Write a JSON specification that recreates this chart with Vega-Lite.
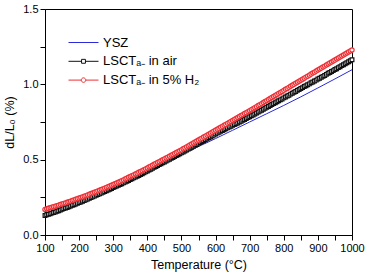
{
  "$schema": "https://vega.github.io/schema/vega-lite/v6.json",
  "width": 307,
  "height": 226,
  "autosize": "none",
  "padding": {"left": 45, "top": 9, "right": 14, "bottom": 41},
  "background": "white",
  "config": {
    "font": "Liberation Sans",
    "view": {"stroke": "#000000", "strokeWidth": 1},
    "axis": {
      "grid": false,
      "domainColor": "#000000",
      "tickColor": "#000000",
      "tickSize": 5,
      "labelColor": "#000000",
      "labelFont": "Liberation Sans",
      "labelFontSize": 11,
      "labelPadding": 2,
      "labelOverlap": false,
      "labelFlush": false,
      "titleColor": "#000000",
      "titleFont": "Liberation Sans",
      "titleFontSize": 12.5,
      "titleFontWeight": "normal"
    }
  },
  "data": {
    "values": [
      {"T": 100, "v": 0.135, "s": "YSZ"}, {"T": 150, "v": 0.180, "s": "YSZ"}, {"T": 200, "v": 0.228, "s": "YSZ"}, {"T": 250, "v": 0.277, "s": "YSZ"},
      {"T": 300, "v": 0.327, "s": "YSZ"}, {"T": 350, "v": 0.378, "s": "YSZ"}, {"T": 400, "v": 0.430, "s": "YSZ"}, {"T": 450, "v": 0.482, "s": "YSZ"},
      {"T": 500, "v": 0.535, "s": "YSZ"}, {"T": 550, "v": 0.587, "s": "YSZ"}, {"T": 600, "v": 0.640, "s": "YSZ"}, {"T": 650, "v": 0.695, "s": "YSZ"},
      {"T": 700, "v": 0.750, "s": "YSZ"}, {"T": 750, "v": 0.805, "s": "YSZ"}, {"T": 800, "v": 0.860, "s": "YSZ"}, {"T": 850, "v": 0.917, "s": "YSZ"},
      {"T": 900, "v": 0.976, "s": "YSZ"}, {"T": 950, "v": 1.036, "s": "YSZ"}, {"T": 1000, "v": 1.097, "s": "YSZ"},

      {"T": 100, "v": 0.130, "s": "air"}, {"T": 105, "v": 0.134, "s": "air"}, {"T": 110, "v": 0.138, "s": "air"}, {"T": 115, "v": 0.141, "s": "air"},
      {"T": 120, "v": 0.145, "s": "air"}, {"T": 125, "v": 0.149, "s": "air"}, {"T": 130, "v": 0.153, "s": "air"}, {"T": 135, "v": 0.157, "s": "air"},
      {"T": 140, "v": 0.161, "s": "air"}, {"T": 145, "v": 0.166, "s": "air"}, {"T": 150, "v": 0.171, "s": "air"}, {"T": 155, "v": 0.175, "s": "air"},
      {"T": 160, "v": 0.179, "s": "air"}, {"T": 165, "v": 0.183, "s": "air"}, {"T": 170, "v": 0.188, "s": "air"}, {"T": 175, "v": 0.192, "s": "air"},
      {"T": 180, "v": 0.197, "s": "air"}, {"T": 185, "v": 0.201, "s": "air"}, {"T": 190, "v": 0.206, "s": "air"}, {"T": 195, "v": 0.210, "s": "air"},
      {"T": 200, "v": 0.215, "s": "air"}, {"T": 205, "v": 0.219, "s": "air"}, {"T": 210, "v": 0.224, "s": "air"}, {"T": 215, "v": 0.228, "s": "air"},
      {"T": 220, "v": 0.233, "s": "air"}, {"T": 225, "v": 0.238, "s": "air"}, {"T": 230, "v": 0.243, "s": "air"}, {"T": 235, "v": 0.248, "s": "air"},
      {"T": 240, "v": 0.253, "s": "air"}, {"T": 245, "v": 0.258, "s": "air"}, {"T": 250, "v": 0.263, "s": "air"}, {"T": 255, "v": 0.268, "s": "air"},
      {"T": 260, "v": 0.273, "s": "air"}, {"T": 265, "v": 0.278, "s": "air"}, {"T": 270, "v": 0.283, "s": "air"}, {"T": 275, "v": 0.288, "s": "air"},
      {"T": 280, "v": 0.294, "s": "air"}, {"T": 285, "v": 0.299, "s": "air"}, {"T": 290, "v": 0.304, "s": "air"}, {"T": 295, "v": 0.309, "s": "air"},
      {"T": 300, "v": 0.315, "s": "air"}, {"T": 305, "v": 0.320, "s": "air"}, {"T": 310, "v": 0.325, "s": "air"}, {"T": 315, "v": 0.330, "s": "air"},
      {"T": 320, "v": 0.335, "s": "air"}, {"T": 325, "v": 0.340, "s": "air"}, {"T": 330, "v": 0.346, "s": "air"}, {"T": 335, "v": 0.351, "s": "air"},
      {"T": 340, "v": 0.357, "s": "air"}, {"T": 345, "v": 0.362, "s": "air"}, {"T": 350, "v": 0.368, "s": "air"}, {"T": 355, "v": 0.373, "s": "air"},
      {"T": 360, "v": 0.379, "s": "air"}, {"T": 365, "v": 0.384, "s": "air"}, {"T": 370, "v": 0.390, "s": "air"}, {"T": 375, "v": 0.395, "s": "air"},
      {"T": 380, "v": 0.401, "s": "air"}, {"T": 385, "v": 0.407, "s": "air"}, {"T": 390, "v": 0.413, "s": "air"}, {"T": 395, "v": 0.419, "s": "air"},
      {"T": 400, "v": 0.425, "s": "air"}, {"T": 405, "v": 0.431, "s": "air"}, {"T": 410, "v": 0.437, "s": "air"}, {"T": 415, "v": 0.443, "s": "air"},
      {"T": 420, "v": 0.449, "s": "air"}, {"T": 425, "v": 0.455, "s": "air"}, {"T": 430, "v": 0.461, "s": "air"}, {"T": 435, "v": 0.467, "s": "air"},
      {"T": 440, "v": 0.473, "s": "air"}, {"T": 445, "v": 0.479, "s": "air"}, {"T": 450, "v": 0.485, "s": "air"}, {"T": 455, "v": 0.491, "s": "air"},
      {"T": 460, "v": 0.497, "s": "air"}, {"T": 465, "v": 0.503, "s": "air"}, {"T": 470, "v": 0.509, "s": "air"}, {"T": 475, "v": 0.515, "s": "air"},
      {"T": 480, "v": 0.521, "s": "air"}, {"T": 485, "v": 0.527, "s": "air"}, {"T": 490, "v": 0.533, "s": "air"}, {"T": 495, "v": 0.539, "s": "air"},
      {"T": 500, "v": 0.545, "s": "air"}, {"T": 505, "v": 0.551, "s": "air"}, {"T": 510, "v": 0.558, "s": "air"}, {"T": 515, "v": 0.564, "s": "air"},
      {"T": 520, "v": 0.570, "s": "air"}, {"T": 525, "v": 0.576, "s": "air"}, {"T": 530, "v": 0.583, "s": "air"}, {"T": 535, "v": 0.589, "s": "air"},
      {"T": 540, "v": 0.595, "s": "air"}, {"T": 545, "v": 0.601, "s": "air"}, {"T": 550, "v": 0.608, "s": "air"}, {"T": 555, "v": 0.614, "s": "air"},
      {"T": 560, "v": 0.620, "s": "air"}, {"T": 565, "v": 0.626, "s": "air"}, {"T": 570, "v": 0.632, "s": "air"}, {"T": 575, "v": 0.638, "s": "air"},
      {"T": 580, "v": 0.645, "s": "air"}, {"T": 585, "v": 0.651, "s": "air"}, {"T": 590, "v": 0.657, "s": "air"}, {"T": 595, "v": 0.663, "s": "air"},
      {"T": 600, "v": 0.670, "s": "air"}, {"T": 605, "v": 0.676, "s": "air"}, {"T": 610, "v": 0.682, "s": "air"}, {"T": 615, "v": 0.688, "s": "air"},
      {"T": 620, "v": 0.694, "s": "air"}, {"T": 625, "v": 0.699, "s": "air"}, {"T": 630, "v": 0.705, "s": "air"}, {"T": 635, "v": 0.711, "s": "air"},
      {"T": 640, "v": 0.717, "s": "air"}, {"T": 645, "v": 0.722, "s": "air"}, {"T": 650, "v": 0.728, "s": "air"}, {"T": 655, "v": 0.733, "s": "air"},
      {"T": 660, "v": 0.739, "s": "air"}, {"T": 665, "v": 0.744, "s": "air"}, {"T": 670, "v": 0.750, "s": "air"}, {"T": 675, "v": 0.755, "s": "air"},
      {"T": 680, "v": 0.761, "s": "air"}, {"T": 685, "v": 0.767, "s": "air"}, {"T": 690, "v": 0.773, "s": "air"}, {"T": 695, "v": 0.779, "s": "air"},
      {"T": 700, "v": 0.785, "s": "air"}, {"T": 705, "v": 0.791, "s": "air"}, {"T": 710, "v": 0.797, "s": "air"}, {"T": 715, "v": 0.803, "s": "air"},
      {"T": 720, "v": 0.810, "s": "air"}, {"T": 725, "v": 0.816, "s": "air"}, {"T": 730, "v": 0.822, "s": "air"}, {"T": 735, "v": 0.828, "s": "air"},
      {"T": 740, "v": 0.835, "s": "air"}, {"T": 745, "v": 0.841, "s": "air"}, {"T": 750, "v": 0.847, "s": "air"}, {"T": 755, "v": 0.853, "s": "air"},
      {"T": 760, "v": 0.860, "s": "air"}, {"T": 765, "v": 0.866, "s": "air"}, {"T": 770, "v": 0.872, "s": "air"}, {"T": 775, "v": 0.878, "s": "air"},
      {"T": 780, "v": 0.885, "s": "air"}, {"T": 785, "v": 0.891, "s": "air"}, {"T": 790, "v": 0.897, "s": "air"}, {"T": 795, "v": 0.903, "s": "air"},
      {"T": 800, "v": 0.910, "s": "air"}, {"T": 805, "v": 0.916, "s": "air"}, {"T": 810, "v": 0.922, "s": "air"}, {"T": 815, "v": 0.928, "s": "air"},
      {"T": 820, "v": 0.935, "s": "air"}, {"T": 825, "v": 0.941, "s": "air"}, {"T": 830, "v": 0.947, "s": "air"}, {"T": 835, "v": 0.953, "s": "air"},
      {"T": 840, "v": 0.960, "s": "air"}, {"T": 845, "v": 0.966, "s": "air"}, {"T": 850, "v": 0.972, "s": "air"}, {"T": 855, "v": 0.978, "s": "air"},
      {"T": 860, "v": 0.985, "s": "air"}, {"T": 865, "v": 0.991, "s": "air"}, {"T": 870, "v": 0.997, "s": "air"}, {"T": 875, "v": 1.003, "s": "air"},
      {"T": 880, "v": 1.010, "s": "air"}, {"T": 885, "v": 1.016, "s": "air"}, {"T": 890, "v": 1.022, "s": "air"}, {"T": 895, "v": 1.028, "s": "air"},
      {"T": 900, "v": 1.035, "s": "air"}, {"T": 905, "v": 1.041, "s": "air"}, {"T": 910, "v": 1.047, "s": "air"}, {"T": 915, "v": 1.053, "s": "air"},
      {"T": 920, "v": 1.059, "s": "air"}, {"T": 925, "v": 1.066, "s": "air"}, {"T": 930, "v": 1.073, "s": "air"}, {"T": 935, "v": 1.079, "s": "air"},
      {"T": 940, "v": 1.085, "s": "air"}, {"T": 945, "v": 1.091, "s": "air"}, {"T": 950, "v": 1.098, "s": "air"}, {"T": 955, "v": 1.104, "s": "air"},
      {"T": 960, "v": 1.111, "s": "air"}, {"T": 965, "v": 1.117, "s": "air"}, {"T": 970, "v": 1.124, "s": "air"}, {"T": 975, "v": 1.130, "s": "air"},
      {"T": 980, "v": 1.136, "s": "air"}, {"T": 985, "v": 1.143, "s": "air"}, {"T": 990, "v": 1.150, "s": "air"}, {"T": 995, "v": 1.156, "s": "air"},
      {"T": 1000, "v": 1.163, "s": "air"},

      {"T": 100, "v": 0.170, "s": "H2"}, {"T": 105, "v": 0.174, "s": "H2"}, {"T": 110, "v": 0.177, "s": "H2"}, {"T": 115, "v": 0.181, "s": "H2"},
      {"T": 120, "v": 0.184, "s": "H2"}, {"T": 125, "v": 0.188, "s": "H2"}, {"T": 130, "v": 0.191, "s": "H2"}, {"T": 135, "v": 0.195, "s": "H2"},
      {"T": 140, "v": 0.198, "s": "H2"}, {"T": 145, "v": 0.202, "s": "H2"}, {"T": 150, "v": 0.206, "s": "H2"}, {"T": 155, "v": 0.210, "s": "H2"},
      {"T": 160, "v": 0.213, "s": "H2"}, {"T": 165, "v": 0.217, "s": "H2"}, {"T": 170, "v": 0.221, "s": "H2"}, {"T": 175, "v": 0.225, "s": "H2"},
      {"T": 180, "v": 0.229, "s": "H2"}, {"T": 185, "v": 0.233, "s": "H2"}, {"T": 190, "v": 0.237, "s": "H2"}, {"T": 195, "v": 0.241, "s": "H2"},
      {"T": 200, "v": 0.245, "s": "H2"}, {"T": 205, "v": 0.249, "s": "H2"}, {"T": 210, "v": 0.253, "s": "H2"}, {"T": 215, "v": 0.257, "s": "H2"},
      {"T": 220, "v": 0.261, "s": "H2"}, {"T": 225, "v": 0.266, "s": "H2"}, {"T": 230, "v": 0.270, "s": "H2"}, {"T": 235, "v": 0.275, "s": "H2"},
      {"T": 240, "v": 0.279, "s": "H2"}, {"T": 245, "v": 0.284, "s": "H2"}, {"T": 250, "v": 0.288, "s": "H2"}, {"T": 255, "v": 0.293, "s": "H2"},
      {"T": 260, "v": 0.297, "s": "H2"}, {"T": 265, "v": 0.302, "s": "H2"}, {"T": 270, "v": 0.306, "s": "H2"}, {"T": 275, "v": 0.311, "s": "H2"},
      {"T": 280, "v": 0.316, "s": "H2"}, {"T": 285, "v": 0.321, "s": "H2"}, {"T": 290, "v": 0.325, "s": "H2"}, {"T": 295, "v": 0.330, "s": "H2"},
      {"T": 300, "v": 0.335, "s": "H2"}, {"T": 305, "v": 0.340, "s": "H2"}, {"T": 310, "v": 0.345, "s": "H2"}, {"T": 315, "v": 0.350, "s": "H2"},
      {"T": 320, "v": 0.355, "s": "H2"}, {"T": 325, "v": 0.361, "s": "H2"}, {"T": 330, "v": 0.366, "s": "H2"}, {"T": 335, "v": 0.372, "s": "H2"},
      {"T": 340, "v": 0.377, "s": "H2"}, {"T": 345, "v": 0.383, "s": "H2"}, {"T": 350, "v": 0.388, "s": "H2"}, {"T": 355, "v": 0.394, "s": "H2"},
      {"T": 360, "v": 0.399, "s": "H2"}, {"T": 365, "v": 0.405, "s": "H2"}, {"T": 370, "v": 0.410, "s": "H2"}, {"T": 375, "v": 0.416, "s": "H2"},
      {"T": 380, "v": 0.421, "s": "H2"}, {"T": 385, "v": 0.427, "s": "H2"}, {"T": 390, "v": 0.433, "s": "H2"}, {"T": 395, "v": 0.439, "s": "H2"},
      {"T": 400, "v": 0.445, "s": "H2"}, {"T": 405, "v": 0.451, "s": "H2"}, {"T": 410, "v": 0.457, "s": "H2"}, {"T": 415, "v": 0.463, "s": "H2"},
      {"T": 420, "v": 0.469, "s": "H2"}, {"T": 425, "v": 0.475, "s": "H2"}, {"T": 430, "v": 0.481, "s": "H2"}, {"T": 435, "v": 0.487, "s": "H2"},
      {"T": 440, "v": 0.493, "s": "H2"}, {"T": 445, "v": 0.499, "s": "H2"}, {"T": 450, "v": 0.505, "s": "H2"}, {"T": 455, "v": 0.511, "s": "H2"},
      {"T": 460, "v": 0.517, "s": "H2"}, {"T": 465, "v": 0.523, "s": "H2"}, {"T": 470, "v": 0.529, "s": "H2"}, {"T": 475, "v": 0.535, "s": "H2"},
      {"T": 480, "v": 0.541, "s": "H2"}, {"T": 485, "v": 0.547, "s": "H2"}, {"T": 490, "v": 0.553, "s": "H2"}, {"T": 495, "v": 0.559, "s": "H2"},
      {"T": 500, "v": 0.565, "s": "H2"}, {"T": 505, "v": 0.572, "s": "H2"}, {"T": 510, "v": 0.578, "s": "H2"}, {"T": 515, "v": 0.585, "s": "H2"},
      {"T": 520, "v": 0.591, "s": "H2"}, {"T": 525, "v": 0.598, "s": "H2"}, {"T": 530, "v": 0.604, "s": "H2"}, {"T": 535, "v": 0.611, "s": "H2"},
      {"T": 540, "v": 0.617, "s": "H2"}, {"T": 545, "v": 0.624, "s": "H2"}, {"T": 550, "v": 0.630, "s": "H2"}, {"T": 555, "v": 0.637, "s": "H2"},
      {"T": 560, "v": 0.643, "s": "H2"}, {"T": 565, "v": 0.650, "s": "H2"}, {"T": 570, "v": 0.656, "s": "H2"}, {"T": 575, "v": 0.663, "s": "H2"},
      {"T": 580, "v": 0.669, "s": "H2"}, {"T": 585, "v": 0.676, "s": "H2"}, {"T": 590, "v": 0.682, "s": "H2"}, {"T": 595, "v": 0.689, "s": "H2"},
      {"T": 600, "v": 0.695, "s": "H2"}, {"T": 605, "v": 0.702, "s": "H2"}, {"T": 610, "v": 0.708, "s": "H2"}, {"T": 615, "v": 0.715, "s": "H2"},
      {"T": 620, "v": 0.721, "s": "H2"}, {"T": 625, "v": 0.728, "s": "H2"}, {"T": 630, "v": 0.734, "s": "H2"}, {"T": 635, "v": 0.741, "s": "H2"},
      {"T": 640, "v": 0.747, "s": "H2"}, {"T": 645, "v": 0.754, "s": "H2"}, {"T": 650, "v": 0.760, "s": "H2"}, {"T": 655, "v": 0.767, "s": "H2"},
      {"T": 660, "v": 0.773, "s": "H2"}, {"T": 665, "v": 0.780, "s": "H2"}, {"T": 670, "v": 0.786, "s": "H2"}, {"T": 675, "v": 0.793, "s": "H2"},
      {"T": 680, "v": 0.799, "s": "H2"}, {"T": 685, "v": 0.806, "s": "H2"}, {"T": 690, "v": 0.812, "s": "H2"}, {"T": 695, "v": 0.819, "s": "H2"},
      {"T": 700, "v": 0.825, "s": "H2"}, {"T": 705, "v": 0.832, "s": "H2"}, {"T": 710, "v": 0.838, "s": "H2"}, {"T": 715, "v": 0.845, "s": "H2"},
      {"T": 720, "v": 0.852, "s": "H2"}, {"T": 725, "v": 0.859, "s": "H2"}, {"T": 730, "v": 0.865, "s": "H2"}, {"T": 735, "v": 0.872, "s": "H2"},
      {"T": 740, "v": 0.879, "s": "H2"}, {"T": 745, "v": 0.886, "s": "H2"}, {"T": 750, "v": 0.892, "s": "H2"}, {"T": 755, "v": 0.899, "s": "H2"},
      {"T": 760, "v": 0.906, "s": "H2"}, {"T": 765, "v": 0.913, "s": "H2"}, {"T": 770, "v": 0.919, "s": "H2"}, {"T": 775, "v": 0.926, "s": "H2"},
      {"T": 780, "v": 0.933, "s": "H2"}, {"T": 785, "v": 0.940, "s": "H2"}, {"T": 790, "v": 0.946, "s": "H2"}, {"T": 795, "v": 0.953, "s": "H2"},
      {"T": 800, "v": 0.960, "s": "H2"}, {"T": 805, "v": 0.967, "s": "H2"}, {"T": 810, "v": 0.973, "s": "H2"}, {"T": 815, "v": 0.980, "s": "H2"},
      {"T": 820, "v": 0.987, "s": "H2"}, {"T": 825, "v": 0.994, "s": "H2"}, {"T": 830, "v": 1.000, "s": "H2"}, {"T": 835, "v": 1.007, "s": "H2"},
      {"T": 840, "v": 1.014, "s": "H2"}, {"T": 845, "v": 1.021, "s": "H2"}, {"T": 850, "v": 1.027, "s": "H2"}, {"T": 855, "v": 1.034, "s": "H2"},
      {"T": 860, "v": 1.041, "s": "H2"}, {"T": 865, "v": 1.048, "s": "H2"}, {"T": 870, "v": 1.054, "s": "H2"}, {"T": 875, "v": 1.061, "s": "H2"},
      {"T": 880, "v": 1.068, "s": "H2"}, {"T": 885, "v": 1.075, "s": "H2"}, {"T": 890, "v": 1.081, "s": "H2"}, {"T": 895, "v": 1.088, "s": "H2"},
      {"T": 900, "v": 1.095, "s": "H2"}, {"T": 905, "v": 1.102, "s": "H2"}, {"T": 910, "v": 1.108, "s": "H2"}, {"T": 915, "v": 1.115, "s": "H2"},
      {"T": 920, "v": 1.121, "s": "H2"}, {"T": 925, "v": 1.128, "s": "H2"}, {"T": 930, "v": 1.135, "s": "H2"}, {"T": 935, "v": 1.142, "s": "H2"},
      {"T": 940, "v": 1.148, "s": "H2"}, {"T": 945, "v": 1.155, "s": "H2"}, {"T": 950, "v": 1.161, "s": "H2"}, {"T": 955, "v": 1.168, "s": "H2"},
      {"T": 960, "v": 1.175, "s": "H2"}, {"T": 965, "v": 1.182, "s": "H2"}, {"T": 970, "v": 1.188, "s": "H2"}, {"T": 975, "v": 1.195, "s": "H2"},
      {"T": 980, "v": 1.201, "s": "H2"}, {"T": 985, "v": 1.208, "s": "H2"}, {"T": 990, "v": 1.215, "s": "H2"}, {"T": 995, "v": 1.222, "s": "H2"},
      {"T": 1000, "v": 1.228, "s": "H2"}
    ]
  },
  "encoding": {
    "x": {
      "field": "T",
      "type": "quantitative",
      "scale": {"domain": [100, 1000], "nice": false, "zero": false},
      "axis": {
        "title": "Temperature (°C)",
        "titlePadding": 5,
        "values": [100, 150, 200, 250, 300, 350, 400, 450, 500, 550, 600, 650, 700, 750, 800, 850, 900, 950, 1000],
        "labelExpr": "datum.value % 100 === 0 ? format(datum.value, 'd') : ''"
      }
    },
    "y": {
      "field": "v",
      "type": "quantitative",
      "scale": {"domain": [0, 1.5], "nice": false},
      "axis": {
        "title": "dL/L₀ (%)",
        "titlePadding": 6,
        "values": [0, 0.25, 0.5, 0.75, 1, 1.25, 1.5],
        "labelExpr": "round(datum.value * 100) % 50 === 0 ? format(datum.value, '.1f') : ''"
      }
    }
  },
  "layer": [
    {
      "transform": [{"filter": "datum.s === 'YSZ'"}],
      "mark": {"type": "line", "strokeWidth": 1, "color": "#2a2ad8"},
      "encoding": {}
    },
    {
      "transform": [{"filter": "datum.s === 'air'"}],
      "mark": {"type": "line", "strokeWidth": 1, "color": "#111111"},
      "encoding": {}
    },
    {
      "transform": [{"filter": "datum.s === 'air'"}],
      "mark": {"type": "point", "shape": "square", "filled": false, "fill": "white", "stroke": "#111111", "size": 14, "strokeWidth": 1.2, "opacity": 1},
      "encoding": {"order": {"field": "T", "type": "quantitative"}}
    },
    {
      "transform": [{"filter": "datum.s === 'H2'"}],
      "mark": {"type": "line", "strokeWidth": 1, "color": "#ee3035"},
      "encoding": {}
    },
    {
      "transform": [{"filter": "datum.s === 'H2'"}],
      "mark": {"type": "point", "shape": "circle", "filled": false, "fill": "white", "stroke": "#ee3035", "size": 18, "strokeWidth": 1.2, "opacity": 1},
      "encoding": {"order": {"field": "T", "type": "quantitative"}}
    },
    {
      "transform": [{"filter": "datum.T < 0"}],
      "mark": {"type": "point", "filled": false},
      "encoding": {
        "color": {
          "field": "s",
          "type": "nominal",
          "scale": {"domain": ["YSZ", "air", "H2"], "range": ["#2a2ad8", "#111111", "#ee3035"]},
          "legend": {
            "title": null,
            "orient": "none",
            "legendX": 23,
            "legendY": 26,
            "padding": 0,
            "symbolSize": 900,
            "symbolStrokeWidth": 1,
            "symbolFillColor": "white",
            "symbolOpacity": 1,
            "clipHeight": 15,
            "rowPadding": 3.8,
            "labelOffset": 4,
            "labelFont": "Liberation Sans",
            "labelFontSize": 13,
            "labelColor": "#000000",
            "labelExpr": "datum.value === 'air' ? 'LSCTₐ₋ in air' : datum.value === 'H2' ? 'LSCTₐ₋ in 5% H₂' : 'YSZ'",
            "encode": {"symbols": {"update": {"opacity": {"value": 1}, "fill": {"value": "white"}, "strokeWidth": {"value": 1}}}}
          }
        },
        "shape": {
          "field": "s",
          "type": "nominal",
          "scale": {
            "domain": ["YSZ", "air", "H2"],
            "range": [
              "M-1,0H1",
              "M-1,0H-0.13M0.13,0H1M-0.13,-0.13H0.13V0.13H-0.13Z",
              "M-1,0H-0.15M0.15,0H1M-0.15,0A0.15,0.15,0,1,1,0.15,0A0.15,0.15,0,1,1,-0.15,0Z"
            ]
          }
        }
      }
    }
  ]
}
